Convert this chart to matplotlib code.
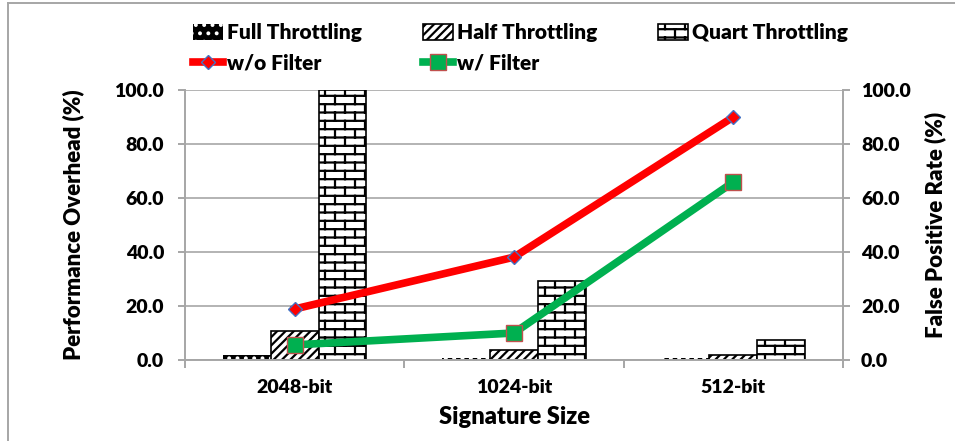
import warnings
import numpy as np
import matplotlib
matplotlib.use("Agg")
import matplotlib.pyplot as plt
import matplotlib.hatch as mhatch
from matplotlib.path import Path
from matplotlib.lines import Line2D

warnings.filterwarnings("ignore")

# ---- data ----
categories = ["2048-bit", "1024-bit", "512-bit"]
full_throttling = [2.0, 0.8, 0.6]
half_throttling = [10.8, 3.7, 2.0]
quart_throttling = [100.0, 29.3, 7.4]
fp_without_filter = [18.9, 38.1, 90.0]
fp_with_filter = [5.6, 10.0, 65.9]
y_ticks = [0, 20, 40, 60, 80, 100]


# ---- brick hatch pattern (selected with the 'b' character) ----
class BrickHatch(mhatch.HatchPatternBase):
    rows = 12
    cols = 5

    def __init__(self, hatch, density):
        self.active = "b" in hatch
        if self.active:
            self.num_vertices = self.rows * 2 + (self.rows + 1) * self.cols * 2
        else:
            self.num_vertices = 0

    def set_vertices_and_codes(self, vertices, codes):
        segs = []
        r, c = self.rows, self.cols
        ys = [(k + 0.5) / r for k in range(r)]
        for y in ys:
            segs.append(((-0.02, y), (1.02, y)))
        for k in range(r):
            off = 0.25 if k % 2 == 0 else 0.75
            for j in range(c):
                x = (j + off) / c
                if k < r - 1:
                    segs.append(((x, ys[k]), (x, ys[k + 1])))
                else:
                    segs.append(((x, ys[k]), (x, 1.02)))
                    segs.append(((x, -0.02), (x, ys[0])))
        pts = np.array([p for s in segs for p in s], dtype=float)
        vertices[:] = pts
        codes[0::2] = Path.MOVETO
        codes[1::2] = Path.LINETO


mhatch._hatch_types.append(BrickHatch)

plt.rcParams["font.family"] = ["Lato", "DejaVu Sans"]
plt.rcParams["font.weight"] = "heavy"
plt.rcParams["hatch.linewidth"] = 1.6

grid_gray = "#B3B3B3"
axis_gray = "#A6A6A6"
W = "heavy"

fig = plt.figure(figsize=(9.55, 4.41), dpi=100)
ax = fig.add_axes([185 / 955, 1 - 360 / 441, 658 / 955, 270 / 441])

x = np.arange(len(categories))
bw = 0.218

b_full = ax.bar(x - bw, full_throttling, bw, facecolor="black", edgecolor="white",
                linewidth=0, hatch="..", label="Full Throttling")
b_half = ax.bar(x, half_throttling, bw, facecolor="white", edgecolor="black",
                linewidth=1.2, hatch="////", label="Half Throttling")
b_quart = ax.bar(x + bw, quart_throttling, bw, facecolor="white", edgecolor="black",
                 linewidth=1.2, hatch="b", label="Quart Throttling")

ax.set_xlim(-0.5, len(categories) - 0.5)
ax.set_ylim(0, 100)
ax.set_yticks(y_ticks)
ax.yaxis.set_major_formatter(matplotlib.ticker.FormatStrFormatter("%.1f"))
ax.set_axisbelow(True)
ax.grid(axis="y", color=grid_gray, linewidth=1.4)

ax.set_xticks(x)
ax.set_xticklabels(categories, fontweight=W)
ax.set_xticks(np.arange(len(categories) + 1) - 0.5, minor=True)
ax.tick_params(axis="x", which="major", length=0, pad=14, labelsize=14)
ax.tick_params(axis="x", which="minor", length=6, width=1.4, color=axis_gray)
ax.tick_params(axis="y", length=5, width=1.4, color=axis_gray, pad=10, labelsize=14)

for side in ["top", "right"]:
    ax.spines[side].set_visible(False)
for side in ["left", "bottom"]:
    ax.spines[side].set_color(axis_gray)
    ax.spines[side].set_linewidth(1.4)

ax.set_xlabel("Signature Size", fontsize=17, fontweight=W)
ax.xaxis.set_label_coords(0.5, -0.172)
ax.set_ylabel("Performance Overhead (%)", fontsize=16, fontweight=W)
ax.yaxis.label.set_va("center")
ax.yaxis.set_label_coords(-0.170, 0.5)

# ---- false positive rate on the secondary axis ----
ax2 = ax.twinx()
ax2.set_ylim(0, 100)
ax2.set_yticks(y_ticks)
ax2.yaxis.set_major_formatter(matplotlib.ticker.FormatStrFormatter("%.1f"))
ax2.tick_params(axis="y", length=5, width=1.4, color=axis_gray, pad=8, labelsize=14)
for side in ["top", "left", "bottom"]:
    ax2.spines[side].set_visible(False)
ax2.spines["right"].set_color(axis_gray)
ax2.spines["right"].set_linewidth(1.4)

l_wo, = ax2.plot(x, fp_without_filter, color="#FF0000", linewidth=5.5,
                 marker="D", markersize=7.5, markerfacecolor="#FF0000",
                 markeredgecolor="#4472C4", markeredgewidth=1, label="w/o Filter")
l_w, = ax2.plot(x, fp_with_filter, color="#00B050", linewidth=5.5,
                marker="s", markersize=11, markerfacecolor="#00B050",
                markeredgecolor="#C0504D", markeredgewidth=1, label="w/ Filter")

ax2.set_ylabel("False Positive Rate (%)", fontsize=16, fontweight=W, rotation=90)
ax2.yaxis.label.set_va("center")
ax2.yaxis.set_label_coords(1.140, 0.5)

# ---- legend ----
handles = [b_full, l_wo, b_half, l_w, b_quart]
labels = [h.get_label() for h in handles]
fig.legend(handles, labels, loc="upper left", bbox_to_anchor=(193 / 955, 1 - 23 / 441),
           ncol=3, frameon=False, prop={"size": 15, "weight": W},
           borderpad=0, borderaxespad=0,
           handlelength=1.45, handleheight=0.8, handletextpad=0.2,
           columnspacing=2.9, labelspacing=0.55)

# ---- chart area border ----
fig.add_artist(Line2D([8 / 955, 1], [1 - 3 / 441, 1 - 3 / 441],
                      transform=fig.transFigure, color=axis_gray, linewidth=1.4))
fig.add_artist(Line2D([8 / 955, 8 / 955], [0, 1 - 3 / 441],
                      transform=fig.transFigure, color=axis_gray, linewidth=1.4))

fig.savefig("out.png", dpi=100)
